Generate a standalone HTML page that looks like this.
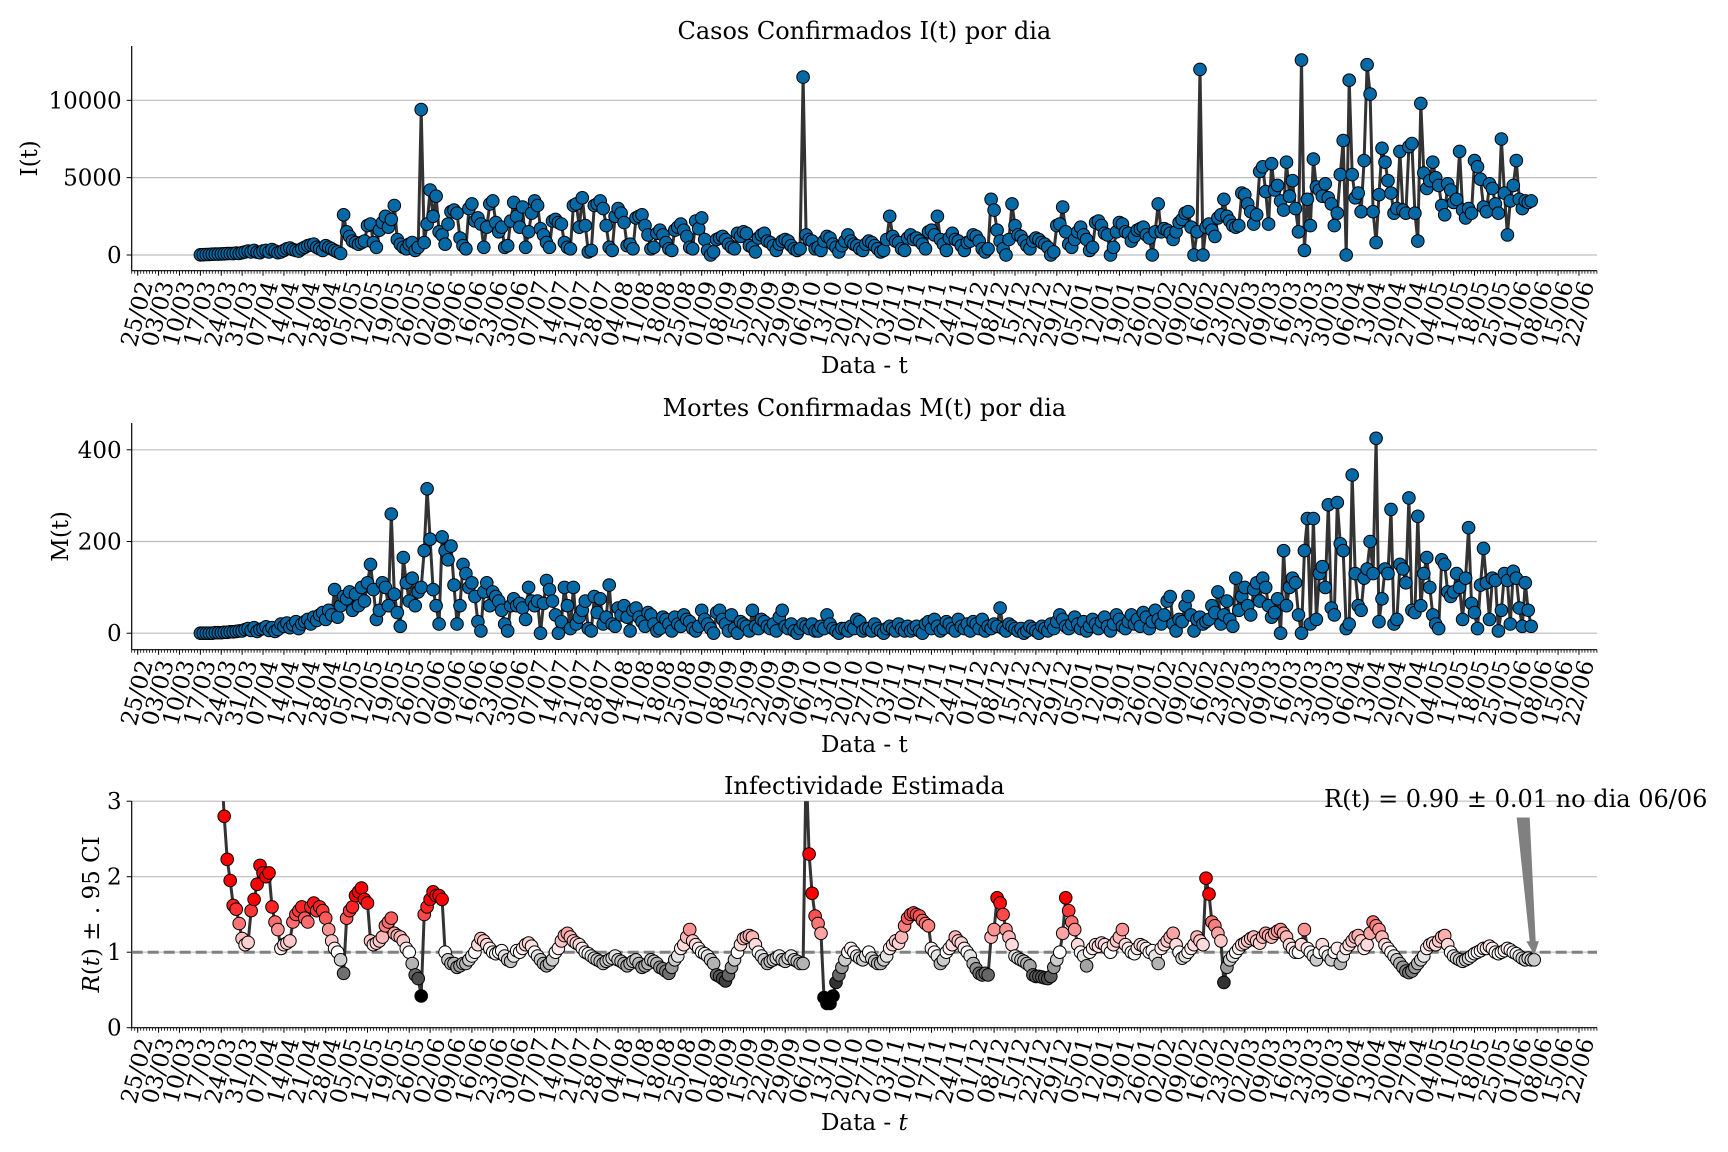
<!DOCTYPE html>
<html><head><meta charset="utf-8"><style>
html,body{margin:0;padding:0;background:#fff;}
svg{display:block;font-family:"DejaVu Serif","Liberation Serif",serif;}
</style></head><body>
<svg id="chart" xmlns="http://www.w3.org/2000/svg" width="1728" height="1152" viewBox="0 0 1728 1152">
<defs>
<clipPath id="clip3"><rect x="131.7" y="801.1" width="1466" height="226.6"/></clipPath>
</defs>
<rect x="0" y="0" width="1728" height="1152" fill="#fff"/>
<g id="p1"></g>
<g id="p2"></g>
<g id="p3"></g>
</svg>
<script>
const casesStart = 21;
const cases = [10,20,30,40,50,60,60,
70,80,90,100,90,120,100,
150,200,250,200,300,180,150,
250,300,200,350,250,150,200,
300,400,450,350,300,250,400,
500,600,650,700,500,400,300,
600,500,400,300,200,100,2600,
1500,1200,900,800,700,800,900,
1900,2000,800,500,1600,2100,2500,
1800,2300,3200,1000,700,500,400,
700,800,300,500,9400,800,2000,
4200,2500,3800,1500,1300,700,2000,
2800,2900,2700,1100,600,400,3000,
3300,2200,2400,2000,500,1800,3300,
3500,2100,1500,1800,500,600,2200,
3400,2500,1800,3100,500,1500,2700,
3500,3200,1700,1300,800,500,2200,
2300,2100,2000,800,500,400,3200,
3300,1800,3700,1900,200,300,3200,
3300,3500,3000,1900,500,300,2500,
3000,2700,2100,600,700,400,2400,
2500,2600,1900,1300,400,500,1400,
1600,1300,800,400,300,1600,1800,
2000,1600,1200,500,400,2200,1700,
2400,1000,300,0,200,1000,1100,
1200,1000,700,500,400,1400,1200,
1500,1400,600,500,200,1100,1300,
1400,900,800,600,300,700,900,
1000,900,600,400,300,400,11500,
1300,1000,900,400,500,300,900,
1200,1100,700,500,200,600,900,
1300,900,700,600,400,300,700,
900,800,600,400,200,300,1000,
2500,1200,900,800,400,300,1100,
1300,1000,1100,900,700,400,1500,
1600,1300,2500,1000,700,300,1100,
1400,1000,900,600,300,800,900,
1300,1200,900,400,200,400,3600,
2900,1600,900,400,0,1000,3300,
1900,1300,1200,900,600,400,900,
1100,1000,800,700,500,0,200,
1900,2000,3100,1500,700,500,1000,
1500,1800,1300,1000,300,500,2100,
2200,1900,1400,1300,0,500,1500,
2100,2000,1500,1400,900,1200,1600,
1700,1800,1300,1100,0,1500,3300,
1500,1700,1600,1400,1000,1500,2100,
2300,2700,2800,1800,0,1500,12000,
0,1800,2000,1600,1200,2400,2600,
3600,2500,2200,1900,1800,1900,4000,
3900,3300,2800,2000,2600,5400,5700,
4100,2000,5900,4200,4500,3500,2900,
6000,3800,4800,3000,1500,12600,300,
3600,1900,6200,4400,4200,3800,4600,
3700,3300,1900,2700,5200,7400,0,
11300,5200,3700,4000,2800,6100,12300,
10400,2800,800,3900,6900,6000,4800,
4000,2700,3000,6700,2900,2700,7000,
7200,2700,900,9800,5300,4300,4800,
6000,5000,4500,3200,2600,4600,4200,
3400,3600,6700,2900,2400,3000,2700,
6100,5700,4900,3100,2800,4600,4300,
3300,2700,7500,4000,1300,3500,4500,
6100,3600,3000,3500,3400,3500];
const deathsStart = 21;
const deaths = [0,0,0,0,0,1,1,
1,2,2,3,3,4,5,
5,8,10,6,12,4,8,
10,14,6,12,4,8,20,
15,22,12,18,25,10,20,
25,30,20,35,28,40,45,
30,50,40,95,35,60,80,
75,90,50,85,60,100,70,
110,150,95,30,50,110,100,
60,260,85,45,15,165,110,
70,120,60,90,100,180,315,
205,95,60,20,210,180,160,
190,105,20,60,150,130,100,
110,80,25,5,90,110,60,
90,80,70,50,20,5,60,
75,60,65,55,30,100,70,
60,70,0,65,115,95,70,
40,0,25,100,60,10,100,
20,35,50,70,10,5,80,
45,75,20,35,105,20,15,
55,40,60,35,5,50,55,
35,25,15,45,40,20,5,
10,35,30,20,5,35,20,
15,40,30,25,10,5,15,
50,30,20,10,0,45,50,
30,20,5,40,10,0,25,
20,15,5,50,15,10,30,
25,15,10,20,5,35,50,
15,10,20,5,0,10,20,
15,10,20,5,5,15,10,
40,20,10,5,0,10,10,
5,15,10,30,25,5,10,
10,5,20,10,5,0,10,
15,10,5,20,10,5,15,
5,10,15,5,0,20,25,
10,30,15,5,10,25,20,
10,5,30,15,10,20,5,
25,20,10,30,5,15,10,
20,15,55,10,5,20,15,
10,5,10,0,5,15,10,
5,0,15,10,5,20,10,
25,40,30,15,10,20,35,
20,10,25,5,15,30,20,
10,25,35,15,5,20,40,
30,15,10,25,40,20,30,
15,45,35,10,25,50,30,
20,40,70,80,20,5,30,
25,60,80,40,5,30,35,
20,25,30,60,45,90,20,
40,70,30,15,120,50,80,
100,60,40,95,110,70,120,
100,60,35,45,75,0,180,
60,100,120,110,40,0,180,
250,20,250,30,130,145,100,
280,55,40,285,195,180,10,
20,345,130,60,50,120,140,
200,130,425,25,75,140,130,
270,20,30,150,140,110,295,
50,45,255,60,130,165,100,
40,20,10,160,150,90,80,
90,130,100,30,120,230,65,
45,10,105,185,110,30,120,
115,5,50,130,115,20,135,
120,55,15,110,50,15];
const rStart = 28;
const rValues = [3.5,2.8,2.23,1.95,1.62,1.57,1.38,1.18,1.1,1.13,1.55,1.7,1.9,2.15,
2.05,2.0,2.05,1.6,1.4,1.3,1.05,1.1,1.12,1.15,
1.4,1.5,1.55,1.6,1.45,1.4,1.6,1.65,1.55,1.6,
1.55,1.45,1.3,1.15,1.05,1.0,0.9,0.72,1.45,1.55,
1.6,1.75,1.8,1.85,1.7,1.65,1.15,1.1,1.12,1.15,
1.2,1.35,1.4,1.45,1.25,1.22,1.2,1.15,1.05,1.0,
0.85,0.7,0.65,0.42,1.5,1.6,1.7,1.8,1.75,1.75,1.7,1.0,
0.9,0.85,0.85,0.8,0.82,0.85,0.85,0.9,0.95,1.0,
1.1,1.18,1.15,1.1,1.05,1.0,0.98,1.0,1.02,0.95,0.9,0.88,
0.95,1.02,1.0,1.05,1.1,1.12,1.08,1.0,0.95,0.9,0.85,0.82,0.85,0.9,
1.0,1.05,1.15,1.22,1.25,1.2,1.15,1.12,1.1,1.05,1.0,0.98,0.95,0.92,0.9,0.88,0.85,0.88,0.9,0.92,
0.95,0.9,0.88,0.85,0.82,0.85,0.88,0.9,0.85,0.8,0.82,0.85,0.9,0.88,0.85,0.8,0.78,0.75,0.72,0.8,
0.9,0.95,1.05,1.1,1.2,1.3,1.15,1.1,1.05,1.0,0.98,0.95,
0.9,0.85,0.7,0.68,0.65,0.62,0.7,0.8,0.9,1.0,
1.1,1.18,1.2,1.22,1.2,1.1,1.0,0.95,0.9,0.85,0.88,0.9,
0.92,0.95,0.9,0.88,0.92,0.95,0.9,0.88,0.85,0.85,
3.5,2.3,1.78,1.48,1.38,1.25,0.4,0.32,0.32,0.42,
0.6,0.7,0.8,0.9,1.0,1.05,1.0,0.95,0.92,0.9,
0.95,1.0,0.92,0.88,0.85,0.85,0.9,0.95,1.05,1.1,
1.15,1.12,1.2,1.35,1.45,1.5,1.52,1.5,1.48,1.42,
1.38,1.35,1.05,1.0,0.95,0.85,0.9,1.0,1.05,1.1,
1.2,1.15,1.12,1.05,1.0,0.95,0.85,0.78,0.72,0.7,
0.72,0.7,1.2,1.3,1.72,1.65,1.5,1.3,1.2,1.1,
0.95,0.92,0.9,0.88,0.85,0.82,0.7,0.68,0.68,0.67,
0.66,0.65,0.68,0.8,0.9,1.0,1.25,1.72,1.55,1.4,
1.3,1.1,1.0,0.95,0.82,1.0,1.05,1.1,1.08,1.12,
1.1,1.05,1.0,1.1,1.15,1.2,1.3,1.1,1.05,1.0,
0.98,1.05,1.1,1.08,1.05,1.0,1.02,0.95,0.85,1.05,
1.1,1.15,1.2,1.25,1.1,1.0,0.92,0.95,1.0,1.05,
1.1,1.2,1.15,1.1,1.98,1.77,1.4,1.35,1.25,1.15,
0.6,0.8,0.9,0.95,1.0,1.05,1.1,1.12,
1.15,1.18,1.2,1.15,1.12,1.2,1.25,1.22,1.2,1.25,
1.28,1.3,1.25,1.2,1.1,1.05,1.0,1.0,1.1,1.3,
1.05,1.0,0.95,0.9,1.0,1.1,1.0,0.95,0.9,1.0,
1.05,0.85,0.95,1.05,1.1,1.15,1.2,1.22,1.15,1.05,
1.1,1.25,1.4,1.35,1.3,1.2,1.1,1.05,1.0,0.95,
0.9,0.85,0.8,0.75,0.73,0.75,0.8,0.85,0.9,0.95,
1.05,1.1,1.12,1.1,1.15,1.2,1.22,1.1,1.0,0.95,
0.92,0.9,0.88,0.9,0.92,0.95,0.98,1.0,1.02,1.05,
1.05,1.08,1.05,1.0,0.98,1.0,1.02,1.05,1.03,1.0,
0.98,0.95,0.92,0.9,0.92,0.9,0.9];
const casesTicks = [0,5000,10000];
const deathsTicks = [0,200,400];
const rTicks = [0,1,2,3];
const firstTickDay = 0;
const weekCount = 70;
const annotationText = "R(t) = 0.90 \u00b1 0.01 no dia 06/06";

const NS = "http://www.w3.org/2000/svg";
const L = 131.7, R = 1597;
function xS(d){ return 137.7 + 2.984*d; }
const panels = [
  {g:'p1', top:46, bottom:270.7, y:v=>255 - v*0.01547, ticks:casesTicks, title:'Casos Confirmados I(t) por dia', ylab:'I(t)', ylx:30, xlabY:373, tlY:314, key:'cases'},
  {g:'p2', top:423, bottom:649.7, y:v=>633.2 - v*0.4585, ticks:deathsTicks, title:'Mortes Confirmadas M(t) por dia', ylab:'M(t)', ylx:61, xlabY:752, tlY:693, key:'deaths'},
  {g:'p3', top:801.1, bottom:1027.7, y:v=>1027.7 - v*75.5, ticks:rTicks, title:'Infectividade Estimada', ylab:'', ylx:92, xlabY:1130, tlY:1071, key:'rt'}
];
function mk(tag, attrs, parent){
  const e = document.createElementNS(NS, tag);
  for (const k in attrs) e.setAttribute(k, attrs[k]);
  parent.appendChild(e);
  return e;
}
function dateLabel(d){
  const dt = new Date(Date.UTC(2020,1,25) + d*86400000);
  return String(dt.getUTCDate()).padStart(2,'0') + '/' + String(dt.getUTCMonth()+1).padStart(2,'0');
}
function rColor(v){
  if (v >= 1){
    const t = Math.min(1,(v-1)/0.7);
    const c = Math.round(255*(1-t));
    return `rgb(255,${c},${c})`;
  } else {
    const t = Math.min(1,(1-v)/0.5);
    const c = Math.round(255*(1-t));
    return `rgb(${c},${c},${c})`;
  }
}
panels.forEach(p=>{
  const g = document.getElementById(p.g);
  p.ticks.forEach(t=>{
    const yy = p.y(t);
    if (t !== 0 || p.key !== 'rt'){
      const gl = mk('line',{x1:L,x2:R,y1:yy,y2:yy,stroke:'#bdbdbd','stroke-width':1.2},g);
      
      
    }
    const tk = mk('line',{x1:L-5,x2:L,y1:yy,y2:yy,stroke:'#000','stroke-width':1},g);
    
    
    const tl = mk('text',{x:L-10,y:yy+8,'text-anchor':'end','font-size':23,fill:'#000'},g);
    tl.textContent = String(t);
    
    
  });
  const sp1 = mk('line',{x1:L,x2:L,y1:p.top,y2:p.bottom,stroke:'#000','stroke-width':1.2},g);
  
  
  const sp2 = mk('line',{x1:L,x2:R,y1:p.bottom,y2:p.bottom,stroke:'#000','stroke-width':1.2},g);
  
  
  let dpath = '';
  for (let d=-2; d<=489; d++){ const xx = xS(d); dpath += `M${xx.toFixed(1)},${p.bottom}v3 `; }
  const mt = mk('path',{d:dpath,stroke:'#000','stroke-width':0.8,fill:'none'},g);
  
  
  for (let w=0; w<weekCount; w++){
    const d = firstTickDay + 7*w;
    const xx = xS(d);
    const mj = mk('line',{x1:xx,x2:xx,y1:p.bottom,y2:p.bottom+5,stroke:'#000','stroke-width':1},g);
    
    
    const tl = mk('text',{x:0,y:0,'text-anchor':'middle','dominant-baseline':'central','font-size':23,fill:'#000',transform:`translate(${xx.toFixed(1)},${p.tlY}) rotate(-75)`},g);
    tl.textContent = dateLabel(d);
    
    
  }
  const ti = mk('text',{x:(L+R)/2,y:p.top-7,'text-anchor':'middle','font-size':24,fill:'#000'},g);
  ti.textContent = p.title;
  
  
  const xl = mk('text',{x:(L+R)/2,y:p.xlabY,'text-anchor':'middle','font-size':23,fill:'#000'},g);
  if (p.key==='rt'){ xl.innerHTML = 'Data - <tspan font-style="italic">t</tspan>'; } else { xl.textContent = 'Data - t'; }
  
  
  const yl = mk('text',{x:0,y:0,'text-anchor':'middle','dominant-baseline':'central','font-size':23,fill:'#000',transform:`translate(${p.ylx},${(p.top+p.bottom)/2}) rotate(-90)`},g);
  if (p.key==='rt'){ yl.innerHTML = '<tspan font-style="italic">R</tspan>(<tspan font-style="italic">t</tspan>) \u00b1 . 95 CI'; } else { yl.textContent = p.ylab; }
  
  
});

function drawSeries(p, start, vals, colorFn, name, clip){
  const g = document.getElementById(p.g);
  const sg = mk('g', clip ? {'clip-path':'url(#clip3)'} : {}, g);
  
  
  const pts = vals.map((v,i)=>`${xS(start+i).toFixed(1)},${p.y(v).toFixed(1)}`).join(' ');
  const ln = mk('polyline',{points:pts,fill:'none',stroke:'#333','stroke-width':3,'stroke-linejoin':'round'},sg);
  
  
  vals.forEach((v,i)=>{
    const c = mk('circle',{cx:xS(start+i).toFixed(1),cy:p.y(v).toFixed(1),r:6.3,fill:colorFn(v),stroke:'#000','stroke-width':1},sg);
    
    
  });
}
drawSeries(panels[0], casesStart, cases, ()=>'#0569a6', 'cases', false);
drawSeries(panels[1], deathsStart, deaths, ()=>'#0569a6', 'deaths', false);
(function(){
  const g = document.getElementById('p3');
  const y1 = panels[2].y(1);
  const dl = mk('line',{x1:L,x2:R,y1:y1,y2:y1,stroke:'#808080','stroke-width':3,'stroke-dasharray':'11,5'},g);
  
  
})();
drawSeries(panels[2], rStart, rValues, rColor, 'rt', true);
(function(){
  const g = document.getElementById('p3');
  const last = rValues[rValues.length-1];
  const tx = xS(rStart + rValues.length - 1), ty = panels[2].y(last) - 6;
  const ag = mk('g',{},g);
  
  
  const ar = mk('polygon',{points:`${tx-17},818 ${tx-5},818 ${tx+1},${ty-12} ${tx+4},${ty-12} ${tx},${ty} ${tx-7},${ty-12} ${tx-4},${ty-12}`,fill:'#808080',stroke:'#808080','stroke-width':1},ag);
  
  
  const at = mk('text',{x:1324,y:807,'font-size':24,fill:'#000'},ag);
  at.textContent = annotationText;
  
  
})();
</script>
</body></html>
